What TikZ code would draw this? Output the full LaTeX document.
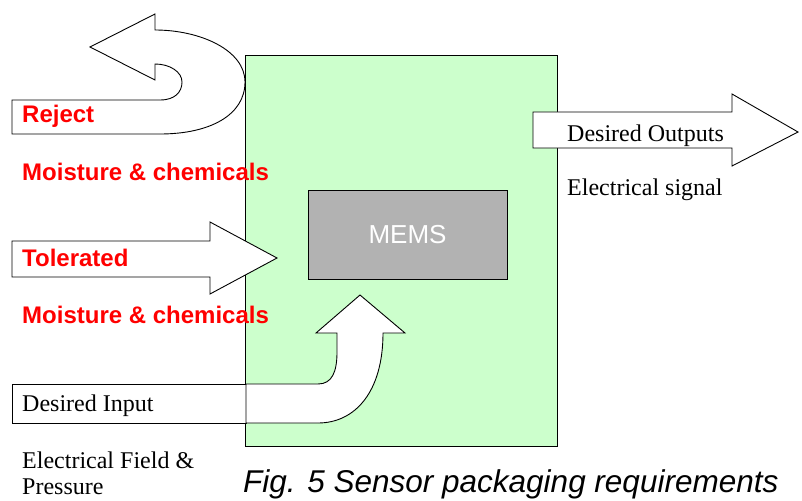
\documentclass[tikz,border=0pt]{standalone}
\usepackage{fontspec}
\setmainfont{Liberation Serif}
\newfontfamily\arialf{Liberation Sans}
\definecolor{boxgreen}{RGB}{204,255,204}
\definecolor{memsgray}{RGB}{178,178,178}
\definecolor{redtxt}{RGB}{255,0,0}
\begin{document}
\begin{tikzpicture}[x=1pt,y=-1pt,
  shapeline/.style={draw=black,line width=0.9pt,fill=white,line join=miter},
  redlabel/.style={anchor=base west,inner sep=0pt,text=redtxt,font=\arialf\bfseries\fontsize{24}{28}\selectfont},
  serlabel/.style={anchor=base west,inner sep=0pt,font=\fontsize{24}{28}\selectfont},
]
\useasboundingbox (0,0) rectangle (802,500);
% package box
\draw[line width=0.9pt,fill=boxgreen] (245,55) rectangle (557,446);
% MEMS
\node[draw=black,line width=0.9pt,fill=memsgray,minimum width=199pt,minimum height=89pt,inner sep=0pt,text=white,font=\arialf\fontsize{26}{30}\selectfont] (mems) at (407.5,234.5) {MEMS};
% reject U-turn arrow
\path[shapeline] (12,100) -- (160,100)
  .. controls (175,100) and (182,92) .. (182,82)
  .. controls (182,72) and (170,64) .. (155,64)
  -- (155,80) -- (90,47) -- (155,14) -- (155,30)
  .. controls (200,30) and (245,50) .. (245,82)
  .. controls (245,115) and (210,134) .. (160,134)
  -- (12,134) -- cycle;
% tolerated arrow
\path[shapeline] (12,241) -- (210,241) -- (210,222) -- (277,258) -- (210,294) -- (210,277) -- (12,277) -- cycle;
% desired outputs arrow
\path[shapeline] (533,112) -- (732,112) -- (732,94) -- (798,132) -- (732,166) -- (732,148) -- (533,148) -- cycle;
% desired input
\path[shapeline] (12,384) rectangle (246,423);
\path[shapeline] (246,384) -- (318,384)
  .. controls (332,384) and (337,372) .. (337,352)
  -- (337,333) -- (316,333) -- (360,295) -- (405,333) -- (383,333)
  .. controls (383,392) and (355,423) .. (318,423)
  -- (246,423) -- cycle;
% labels
\node[redlabel] (reject) at (22,122) {Reject};
\node[redlabel] (moist1) at (22,180) {Moisture \& chemicals};
\node[redlabel] (toler) at (22,266) {Tolerated};
\node[redlabel] (moist2) at (22,323) {Moisture \& chemicals};
\node[serlabel] (outs) at (567,141) {Desired Outputs};
\node[serlabel] (esig) at (567,195) {Electrical signal};
\node[serlabel] (ins) at (22,411) {Desired Input};
\node[serlabel] (efield) at (22,468) {Electrical Field \&};
\node[serlabel] (press) at (22,494) {Pressure};
\node[anchor=base west,inner sep=0pt,font=\arialf\itshape\fontsize{31.5}{35}\selectfont] (cap) at (243,492) {Fig. 5 Sensor packaging requirements};
\end{tikzpicture}
\end{document}
